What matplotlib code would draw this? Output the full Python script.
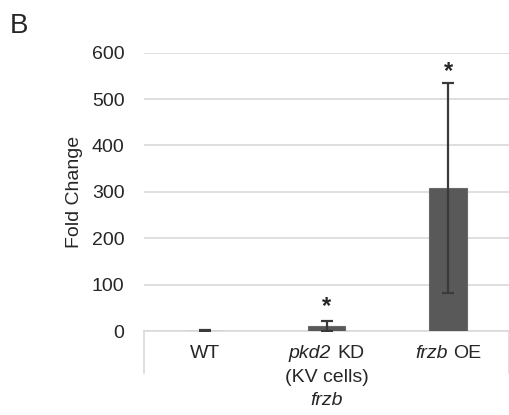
import matplotlib
matplotlib.use("Agg")
import matplotlib.pyplot as plt
import matplotlib.transforms as mtransforms
from matplotlib.offsetbox import TextArea, HPacker, VPacker, AnnotationBbox

plt.rcParams['font.family'] = ['Liberation Sans', 'DejaVu Sans']

# category labels as (italic part, normal part) per line
categories = [
    [("", "WT")],
    [("pkd2", "KD"), ("", "(KV cells)")],
    [("frzb", "OE")],
]
values = [1, 11, 309]
errors = [1, 10, 226]
significant = [False, True, True]
yticks = [0, 100, 200, 300, 400, 500, 600]

txt = '#262626'
grid = '#d9d9d9'
fs = 14

fig = plt.figure(figsize=(5.1, 4.15), dpi=100)
ax = fig.add_axes([144/510, 1-331/415, 365/510, (331-52.7)/415])

x = list(range(len(categories)))
ax.bar(x, values, width=0.31, color='#595959', edgecolor='#6a6a6a', linewidth=0.8, zorder=3)
ax.errorbar(x, values, yerr=errors, fmt='none', ecolor='#3a3a3a', elinewidth=1.6,
            capsize=4, capthick=1.6, zorder=4)

for xi, v, e, s in zip(x, values, errors, significant):
    if s:
        off = 11 if v > 100 else 15
        ax.annotate('*', (xi, v + e), xytext=(0, off * 0.72), textcoords='offset points',
                    ha='center', va='center', fontsize=17, fontweight='bold', color=txt)

ax.set_xlim(-0.5, 2.5)
ax.set_ylim(0, 600)
ax.set_yticks(yticks)
ax.set_yticklabels([str(t) for t in yticks], fontsize=fs, color=txt)
ax.set_xticks(x)
ax.set_xticklabels([])
ax.tick_params(axis='both', length=0)
ax.tick_params(axis='y', pad=14)

for sp in ax.spines.values():
    sp.set_visible(False)
ax.yaxis.grid(True, color=grid, linewidth=1.2, zorder=0)
ax.set_axisbelow(True)
ax.axhline(0, color=grid, linewidth=1.2, zorder=2, clip_on=False)

trans = mtransforms.blended_transform_factory(ax.transData, ax.transAxes)
for xe in (-0.5, 2.5):
    ax.plot([xe, xe], [0, -42/278.3], transform=trans, color=grid, linewidth=1.2, clip_on=False)

# category labels with mixed italic/normal text
for xi, lines in zip(x, categories):
    rows = []
    for ital, norm in lines:
        parts = []
        if ital:
            parts.append(TextArea(ital, textprops=dict(fontsize=fs, style='italic', color=txt)))
        if norm:
            parts.append(TextArea(norm, textprops=dict(fontsize=fs, color=txt)))
        rows.append(HPacker(children=parts, align='baseline', pad=0, sep=4))
    box = VPacker(children=rows, align='center', pad=0, sep=5)
    ab = AnnotationBbox(box, (xi, 0), xycoords=trans, xybox=(0, -10),
                        boxcoords='offset points', box_alignment=(0.5, 1),
                        frameon=False, pad=0, annotation_clip=False)
    ax.add_artist(ab)

ax.set_ylabel('Fold Change', fontsize=fs, color=txt)
ax.yaxis.set_label_coords((83-144)/365, 0.5)
ax.set_xlabel('frzb', fontsize=fs, style='italic', color=txt)
ax.xaxis.set_label_coords(0.5, -(400-331)/278.3)
ax.xaxis.label.set_va('center')

fig.text(10/510, 1-13/415, 'B', fontsize=20, color=txt, ha='left', va='top')

fig.savefig('out.png', dpi=100)
